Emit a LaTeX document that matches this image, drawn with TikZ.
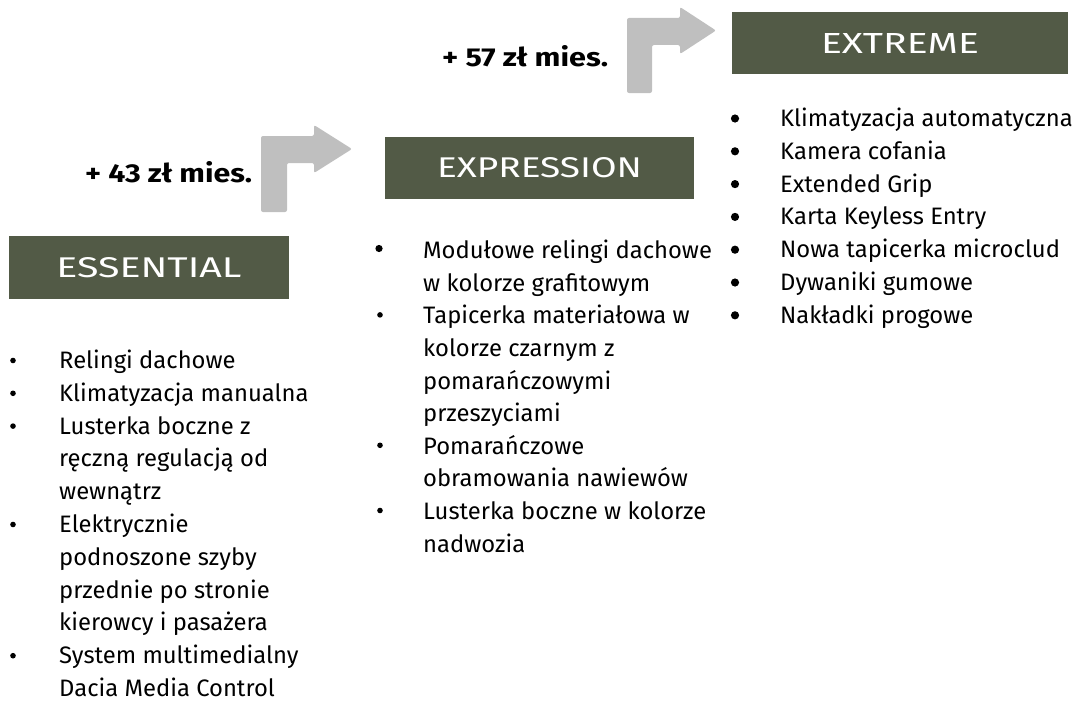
\documentclass[tikz,border=0pt]{standalone}
\usepackage{fontspec}
\setmainfont{Fira Sans}
\usepackage{graphicx}
\definecolor{boxolive}{HTML}{525A46}
\definecolor{arrowgray}{HTML}{BFBFBF}
\tikzset{
  hdr/.style={fill=boxolive, text=white, inner sep=0pt, font=\fontsize{29}{29}\selectfont},
  price/.style={inner sep=0pt, anchor=base west, font=\bfseries\fontsize{28}{28}\selectfont},
  item/.style={inner sep=0pt, anchor=base west, font=\fontsize{23.8}{23.8}\selectfont, text=black},
  bentarrow/.style={fill=arrowgray, rounded corners=2pt},
}
\begin{document}
\begin{tikzpicture}[x=1pt,y=-1pt]
\useasboundingbox (0,0) rectangle (1076,701);

% header boxes
\node[hdr, minimum width=280pt, minimum height=63pt] (ess) at (149,267.5) {\resizebox{185pt}{20pt}{ESSENTIAL}};
\node[hdr, minimum width=309pt, minimum height=62pt] (expr) at (539.5,168) {\resizebox{205pt}{20pt}{EXPRESSION}};
\node[hdr, minimum width=336pt, minimum height=62pt] (extr) at (900,43) {\resizebox{158pt}{20pt}{EXTREME}};

% price labels
\node[price] (p1) at (85,182.7) {\resizebox{167pt}{21pt}{+ 43 zł mies.}};
\node[price] (p2) at (442,66.7) {\resizebox{166pt}{21pt}{+ 57 zł mies.}};

% bent arrows
\fill[bentarrow] (261,212) -- (261,136) -- (314,136) -- (314,125) -- (352,149)
  -- (314,173) -- (314,163) -- (287,163) -- (287,212) -- cycle;
\fill[bentarrow] (627,93) -- (627,18) -- (680,18) -- (680,7) -- (716,30.5)
  -- (680,54) -- (680,45) -- (652,45) -- (652,93) -- cycle;

% ESSENTIAL list
\foreach \t [count=\i] in {Relingi dachowe, Klimatyzacja manualna, Lusterka boczne z,
  ręczną regulacją od, wewnątrz, Elektrycznie, podnoszone szyby, przednie po stronie,
  kierowcy i pasażera, System multimedialny, Dacia Media Control}
  \node[item] (l\i) at (59,{368.5+32.8*(\i-1)}) {\t};
\foreach \k in {1,2,3,6,10}
  \fill (13,{368.5+32.8*(\k-1)-8}) circle[radius=2.8pt];

% EXPRESSION list
\foreach \t [count=\i] in {Modułowe relingi dachowe, w kolorze grafitowym,
  Tapicerka materiałowa w, kolorze czarnym z, pomarańczowymi, przeszyciami,
  Pomarańczowe, obramowania nawiewów, Lusterka boczne w kolorze, nadwozia}
  \node[item] (m\i) at (423,{258.7+32.6*(\i-1)}) {\t};
\fill (379,248.5) circle[radius=3.6pt];
\foreach \k in {3,7,9}
  \fill (380,{258.7+32.6*(\k-1)-9}) circle[radius=2.8pt];

% EXTREME list
\foreach \t [count=\i] in {Klimatyzacja automatyczna, Kamera cofania, Extended Grip,
  Karta Keyless Entry, Nowa tapicerka microclud, Dywaniki gumowe, Nakładki progowe}
  \node[item] (r\i) at (780,{126.5+32.8*(\i-1)}) {\t};
\foreach \k in {1,...,7}
  \fill (735,{126.5+32.8*(\k-1)-8}) circle[radius=4.1pt];
\end{tikzpicture}
\end{document}
